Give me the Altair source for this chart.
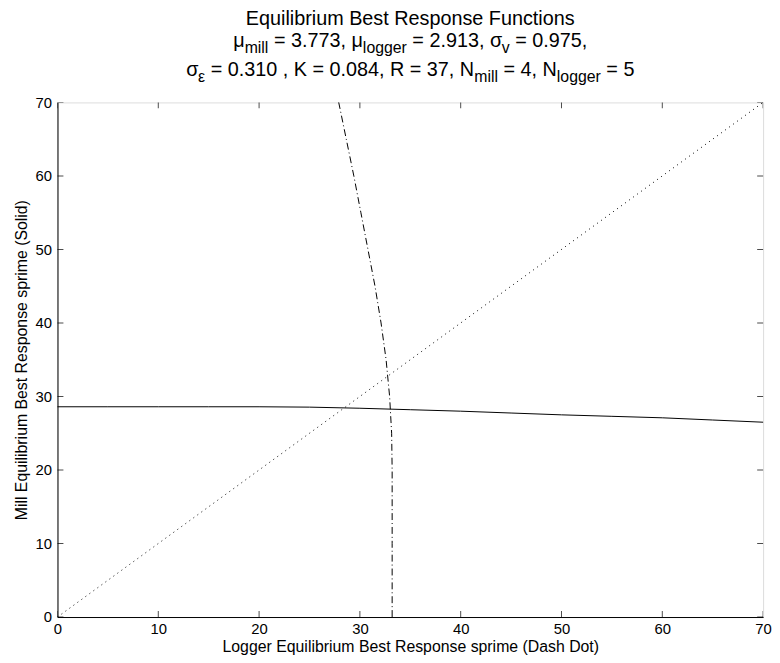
import altair as alt
import pandas as pd

# ---- data ----
solid_x = [0, 5, 10, 15, 20, 25, 30, 35, 40, 45, 50, 55, 60, 65, 70]
solid_y = [28.6, 28.6, 28.6, 28.6, 28.6, 28.55, 28.4, 28.2, 28.0, 27.75, 27.5, 27.3, 27.1, 26.8, 26.5]

dd_y = [0, 10, 20, 25, 30, 35, 40, 45, 50, 55, 60, 65, 70]
dd_x = [33.2, 33.2, 33.2, 33.15, 32.95, 32.6, 32.1, 31.5, 30.8, 30.1, 29.4, 28.65, 27.9]

diag = [0, 70]
ticks = [0, 10, 20, 30, 40, 50, 60, 70]

title_lines = [
    [("Equilibrium Best Response Functions", False)],
    [("μ", False), ("mill", True), (" = 3.773, μ", False), ("logger", True),
     (" = 2.913, σ", False), ("v", True), (" = 0.975,", False)],
    [("σ", False), ("ε", True), (" = 0.310 , K = 0.084, R = 37, N", False), ("mill", True),
     (" = 4, N", False), ("logger", True), (" = 5", False)],
]

W, H = 713, 520
FONT = "Liberation Sans"
MAIN, SUB = 20, 16
SUB_SHIFT = 6
BASELINES = [-78, -56, -27]

# Arial-like advance widths (per 1000 em)
CW = {' ': 278, ',': 278, '.': 278, '=': 584, '(': 333, ')': 333,
      'B': 667, 'E': 667, 'F': 611, 'K': 667, 'N': 722, 'R': 722, 'D': 722, 'L': 556,
      'a': 556, 'b': 556, 'c': 500, 'd': 556, 'e': 556, 'g': 556, 'h': 556, 'i': 222,
      'l': 222, 'm': 833, 'n': 556, 'o': 556, 'p': 556, 'q': 556, 'r': 333, 's': 500,
      't': 278, 'u': 556, 'v': 500, 'μ': 576, 'σ': 600, 'ε': 450}


def tw(t, size):
    return sum(CW.get(c, 556) for c in t) * size / 1000.0


rows = []
for li, segs in enumerate(title_lines):
    total = sum(tw(t, SUB if s else MAIN) for t, s in segs)
    x = W / 2 - total / 2
    for t, s in segs:
        size = SUB if s else MAIN
        lead = t[: len(t) - len(t.lstrip(" "))]
        rows.append({"t": t.strip(" "), "px": x + tw(lead, size),
                     "py": BASELINES[li] + (SUB_SHIFT if s else 0), "sub": s})
        x += tw(t, size)
title_df = pd.DataFrame(rows)

solid_df = pd.DataFrame({"x": solid_x, "y": solid_y})
dd_df = pd.DataFrame({"x": dd_x, "y": dd_y})
diag_df = pd.DataFrame({"x": diag, "y": diag})
tick_df = pd.DataFrame({"v": ticks})

xs = alt.Scale(domain=[0, 70], nice=False, zero=False)
ys = alt.Scale(domain=[0, 70], nice=False, zero=False)

common_axis = dict(values=ticks, ticks=False, grid=False, labelFontSize=15, labelFont=FONT,
                   labelColor="black", domainColor="black", titleFont=FONT, titleFontSize=16,
                   titleFontWeight="normal", titleColor="black", labelFlush=False)
xaxis = alt.Axis(labelPadding=5, titlePadding=2, **common_axis)
yaxis = alt.Axis(labelPadding=6, titlePadding=6, **common_axis)

solid = alt.Chart(solid_df).mark_line(color="black", strokeWidth=1).encode(
    x=alt.X("x:Q", scale=xs, axis=xaxis, title="Logger Equilibrium Best Response sprime (Dash Dot)"),
    y=alt.Y("y:Q", scale=ys, axis=yaxis, title="Mill Equilibrium Best Response sprime (Solid)"),
)
dotted = alt.Chart(diag_df).mark_line(color="black", strokeWidth=1, strokeDash=[1, 4]).encode(
    x=alt.X("x:Q", scale=xs), y=alt.Y("y:Q", scale=ys))
dashdot = alt.Chart(dd_df).mark_line(color="black", strokeWidth=1, strokeDash=[7, 3, 1, 3]).encode(
    x=alt.X("x:Q", scale=xs), y=alt.Y("y:Q", scale=ys), order="y:Q")

tick_style = dict(color="black", size=12, thickness=1, clip=True)
xt_bottom = alt.Chart(tick_df).mark_tick(orient="vertical", **tick_style).encode(
    x=alt.X("v:Q", scale=xs), y=alt.datum(0))
xt_top = alt.Chart(tick_df).mark_tick(orient="vertical", **tick_style).encode(
    x=alt.X("v:Q", scale=xs), y=alt.datum(70))
yt_left = alt.Chart(tick_df).mark_tick(orient="horizontal", **tick_style).encode(
    y=alt.Y("v:Q", scale=ys), x=alt.datum(0))
yt_right = alt.Chart(tick_df).mark_tick(orient="horizontal", **tick_style).encode(
    y=alt.Y("v:Q", scale=ys), x=alt.datum(70))

title_main = alt.Chart(title_df).transform_filter("!datum.sub").mark_text(
    align="left", baseline="alphabetic", font=FONT, fontSize=MAIN, color="black").encode(
    x=alt.X("px:Q", scale=None, axis=None), y=alt.Y("py:Q", scale=None, axis=None), text="t:N")
title_sub = alt.Chart(title_df).transform_filter("datum.sub").mark_text(
    align="left", baseline="alphabetic", font=FONT, fontSize=SUB, color="black").encode(
    x=alt.X("px:Q", scale=None, axis=None), y=alt.Y("py:Q", scale=None, axis=None), text="t:N")

chart = alt.layer(
    solid, dotted, dashdot, xt_bottom, xt_top, yt_left, yt_right, title_main, title_sub
).properties(
    width=W, height=H,
    autosize=alt.AutoSizeParams(type="none"),
    padding={"left": 50, "top": 92, "right": 9, "bottom": 38},
).configure_view(stroke="black", strokeWidth=1).configure(background="white")

chart.save("out.html", embed_options={"renderer": "svg", "actions": False})
